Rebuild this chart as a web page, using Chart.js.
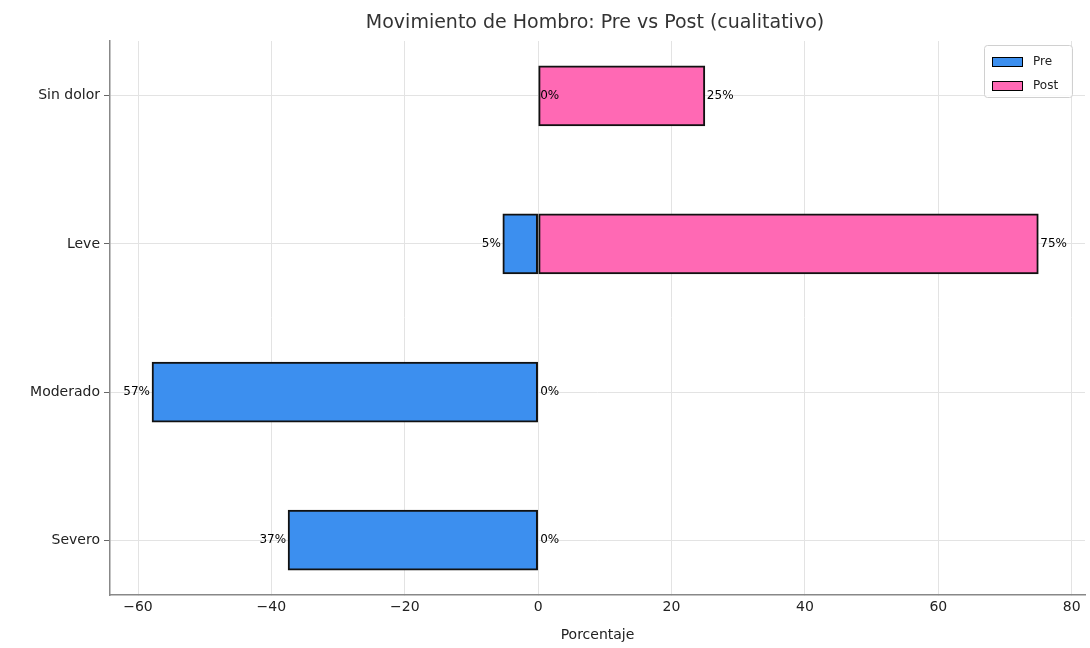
<!DOCTYPE html>
<html>
<head>
<meta charset="utf-8">
<script src="https://cdn.jsdelivr.net/npm/chart.js@4.4.1/dist/chart.umd.min.js"></script>
<style>
  html, body { margin: 0; padding: 0; background: #fff; }
  #wrap { width: 1090px; height: 648px; }
</style>
</head>
<body>
<div id="wrap"><canvas id="myChart" width="1090" height="648"></canvas></div>
<script>
const categories = ['Sin dolor', 'Leve', 'Moderado', 'Severo'];
const preValues = [0, -5.3, -57.9, -37.5];
const postValues = [25, 75, 0, 0];
const xTicks = [-60, -40, -20, 0, 20, 40, 60, 80];

const FONT = "'DejaVu Sans', sans-serif";

// etiquetas tipo bar_label al final de cada barra
const barLabels = {
  id: 'barLabels',
  afterDatasetsDraw(chart) {
    const ctx = chart.ctx;
    ctx.save();
    ctx.font = '12px ' + FONT;
    ctx.fillStyle = '#000';
    ctx.textBaseline = 'middle';
    chart.data.datasets.forEach((ds, i) => {
      const meta = chart.getDatasetMeta(i);
      meta.data.forEach((el, j) => {
        const v = ds.data[j].x;
        const txt = Math.trunc(Math.abs(v)) + '%';
        if (v < 0) {
          ctx.textAlign = 'right';
          ctx.fillText(txt, el.x - 2, el.y);
        } else {
          ctx.textAlign = 'left';
          ctx.fillText(txt, el.x + 2, el.y);
        }
      });
    });
    ctx.restore();
  }
};

// titulo y leyenda dibujados a mano
const extras = {
  id: 'extras',
  afterDraw(chart) {
    const ctx = chart.ctx;
    ctx.save();
    ctx.font = '19px ' + FONT;
    ctx.fillStyle = '#333';
    ctx.textAlign = 'center';
    ctx.textBaseline = 'middle';
    ctx.fillText('Movimiento de Hombro: Pre vs Post (cualitativo)', 595, 23);

    // leyenda
    ctx.fillStyle = 'rgba(255,255,255,0.85)';
    ctx.strokeStyle = '#d0d0d0';
    ctx.lineWidth = 1;
    ctx.beginPath();
    ctx.roundRect(984.5, 45.5, 88, 52, 3);
    ctx.fill();
    ctx.stroke();
    const items = chart.data.datasets;
    items.forEach((ds, i) => {
      const y = 57 + i * 24;
      ctx.fillStyle = ds.backgroundColor;
      ctx.fillRect(992, y, 31, 10);
      ctx.strokeStyle = '#000';
      ctx.lineWidth = 1;
      ctx.strokeRect(992.5, y + 0.5, 30, 9);
      ctx.fillStyle = '#222';
      ctx.font = '12px ' + FONT;
      ctx.textAlign = 'left';
      ctx.fillText(ds.label, 1033, y + 5);
    });
    ctx.restore();
  }
};

const ctx = document.getElementById('myChart');

new Chart(ctx, {
  type: 'bar',
  data: {
    datasets: [{
      label: 'Pre',
      data: categories.map((c, i) => ({ x: preValues[i], y: i })),
      backgroundColor: '#3C8FEF',
      borderColor: '#111',
      borderWidth: 2,
      borderSkipped: false,
      barThickness: 60,
      grouped: false
    }, {
      label: 'Post',
      data: categories.map((c, i) => ({ x: postValues[i], y: i })),
      backgroundColor: '#FF69B4',
      borderColor: '#111',
      borderWidth: 2,
      borderSkipped: false,
      barThickness: 60,
      grouped: false
    }]
  },
  options: {
    indexAxis: 'y',
    responsive: false,
    animation: false,
    layout: { padding: { top: 41, right: 5, left: 0, bottom: 0 } },
    plugins: {
      legend: { display: false },
      title: { display: false },
      tooltip: { enabled: false }
    },
    scales: {
      y: {
        type: 'linear',
        min: -0.37,
        max: 3.37,
        reverse: true,
        offset: false,
        afterBuildTicks: axis => { axis.ticks = categories.map((c, i) => ({ value: i })); },
        afterFit: axis => { axis.width = 110; },
        ticks: {
          callback: v => categories[v],
          font: { family: FONT, size: 14 },
          color: '#222',
          padding: 4
        },
        grid: { color: '#e3e3e3', tickLength: 6, tickColor: '#666', offset: false },
        border: { color: '#888', width: 1.5 }
      },
      x: {
        type: 'linear',
        min: -64.2,
        max: 82,
        afterBuildTicks: axis => { axis.ticks = xTicks.map(v => ({ value: v })); },
        afterFit: axis => { axis.height = 53; },
        ticks: {
          callback: v => v < 0 ? '\u2212' + Math.abs(v) : String(v),
          font: { family: FONT, size: 14 },
          color: '#222',
          padding: 4,
          maxRotation: 0
        },
        grid: { color: '#e3e3e3', tickLength: 0 },
        border: { color: '#888', width: 1.5 },
        title: {
          display: true,
          text: 'Porcentaje',
          font: { family: FONT, size: 14 },
          color: '#222',
          padding: { top: 0, bottom: 4 }
        }
      }
    }
  },
  plugins: [barLabels, extras]
});
</script>
</body>
</html>
